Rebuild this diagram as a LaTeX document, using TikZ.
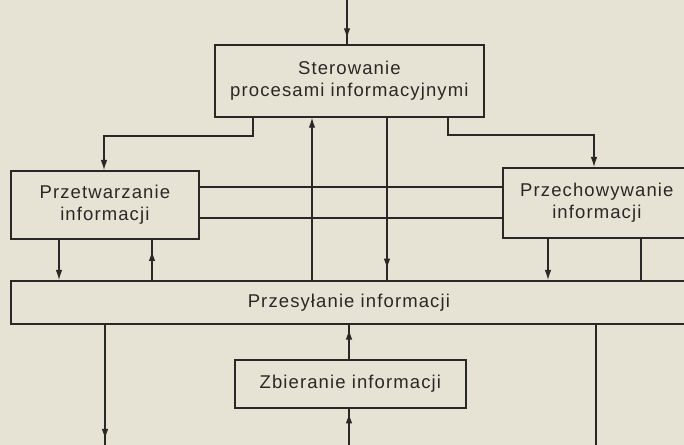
\documentclass[tikz,border=0pt]{standalone}
\usepackage{fontspec}
\setmainfont{Liberation Sans}[LetterSpace=6]
\usetikzlibrary{arrows.meta,decorations.markings}
\definecolor{paper}{RGB}{231,227,212}
\definecolor{ink}{RGB}{42,40,38}
\begin{document}
\begin{tikzpicture}[x=1bp,y=-1bp,
  box/.style={draw=ink,line width=1.7bp,fill=paper,align=center,inner sep=0pt,
    anchor=north west,text=ink,font=\fontsize{18.5bp}{22.5bp}\selectfont},
  conn/.style={draw=ink,line width=1.1bp},
  tip/.style={-{Latex[length=10bp,width=6.5bp]}},
  arrowat/.style={postaction={decorate},decoration={markings,
    mark=at position #1 with {\arrow{Latex[length=10bp,width=6.5bp]}}}}]
\useasboundingbox (0,0) rectangle (684,445);
\clip (0,0) rectangle (684,445);
\fill[paper] (0,0) rectangle (684,445);

% boxes
\node[box,minimum width=269bp,minimum height=72bp] (ster) at (214,44)
  {Sterowanie\\procesami informacyjnymi};
\node[box,minimum width=188bp,minimum height=68bp] (prz) at (10,170)
  {Przetwarzanie\\informacji};
\node[box,minimum width=188bp,minimum height=70bp] (prch) at (502,167)
  {Przechowywanie\\informacji};
\node[box,minimum width=676bp,minimum height=43bp] (pres) at (10,280)
  {Przesyłanie informacji};
\node[box,minimum width=231bp,minimum height=48bp] (zb) at (234,359)
  {Zbieranie informacji};

% helper coordinates
\coordinate (in) at (347,0);
\coordinate (bl) at (105,445);
\coordinate (bm) at (349,445);
\coordinate (br) at (596,445);
\coordinate (k1) at (253,136);
\coordinate (k2) at (104,136);
\coordinate (k3) at (448,135);
\coordinate (k4) at (594,135);
\coordinate (x312) at (312,0);
\coordinate (x387) at (387,0);
\coordinate (x59) at (59,0);
\coordinate (x152) at (152,0);
\coordinate (x548) at (548,0);
\coordinate (x641) at (641,0);
\coordinate (y187) at (0,187);
\coordinate (y218) at (0,218);

% connectors
\draw[conn,arrowat=0.87] (in) -- (in |- ster.north);
\draw[conn,tip] (ster.south -| k1) -- (k1) -- (k2) -- (prz.north -| k2);
\draw[conn,tip] (ster.south -| k3) -- (k3) -- (k4) -- (prch.north -| k4);
\draw[conn,tip] (pres.north -| x312) -- (ster.south -| x312);
\draw[conn,arrowat=0.93] (ster.south -| x387) -- (pres.north -| x387);
\draw[conn] (prz.east |- y187) -- (prch.west |- y187);
\draw[conn] (prz.east |- y218) -- (prch.west |- y218);
\draw[conn,tip] (prz.south -| x59) -- (pres.north -| x59);
\draw[conn,arrowat=0.72] (pres.north -| x152) -- (prz.south -| x152);
\draw[conn,tip] (prch.south -| x548) -- (pres.north -| x548);
\draw[conn] (prch.south -| x641) -- (pres.north -| x641);
\draw[conn,arrowat=0.95] (pres.south -| bl) -- (bl);
\draw[conn] (pres.south -| br) -- (br);
\draw[conn,arrowat=0.86] (zb.north -| bm) -- (pres.south -| bm);
\draw[conn,arrowat=0.87] (bm) -- (zb.south -| bm);
\end{tikzpicture}
\end{document}
